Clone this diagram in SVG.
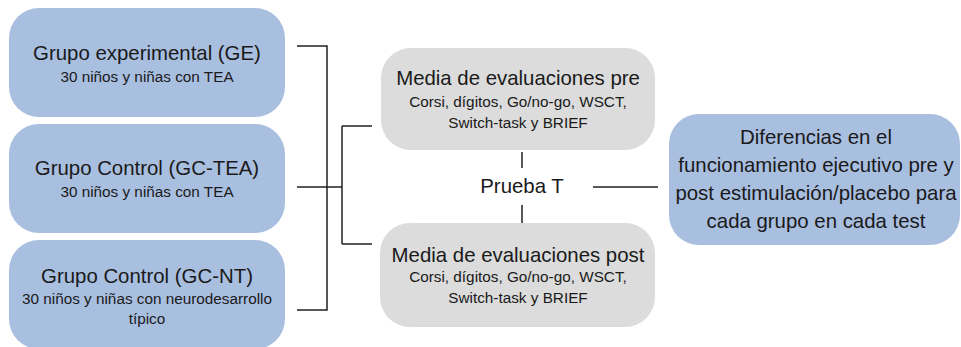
<svg xmlns="http://www.w3.org/2000/svg" width="961" height="347" viewBox="0 0 961 347">
<style>
.blue{fill:#a9bfe0}
.gray{fill:#dcdcdc}
text{font-family:"Liberation Sans",Arial,sans-serif;fill:#1a1a1a;text-anchor:middle}
.t{font-size:20.4px}
.s{font-size:15.3px}
.c{fill:none;stroke:#222;stroke-width:1.5}
</style>
<rect width="961" height="347" fill="#fff"/>
<g id="ge">
<rect class="blue" x="9" y="8" width="276" height="109" rx="30"/>
<text class="t" x="147" y="60">Grupo experimental (GE)</text>
<text class="s" x="147" y="82">30 niños y niñas con TEA</text>
</g>
<g id="gctea">
<rect class="blue" x="9" y="124" width="276" height="109" rx="30"/>
<text class="t" x="147" y="175">Grupo Control (GC-TEA)</text>
<text class="s" x="147" y="197">30 niños y niñas con TEA</text>
</g>
<g id="gcnt">
<rect class="blue" x="9" y="240" width="276" height="109" rx="30"/>
<text class="t" x="147" y="283">Grupo Control (GC-NT)</text>
<text class="s" x="147" y="304">30 niños y niñas con neurodesarrollo</text>
<text class="s" x="147" y="324">típico</text>
</g>
<g id="pre">
<rect class="gray" x="381" y="48" width="274" height="102" rx="30"/>
<text class="t" x="518" y="85">Media de evaluaciones pre</text>
<text class="s" x="518" y="107">Corsi, dígitos, Go/no-go, WSCT,</text>
<text class="s" x="518" y="128">Switch-task y BRIEF</text>
</g>
<g id="post">
<rect class="gray" x="380" y="223" width="275" height="104" rx="30"/>
<text class="t" x="518" y="262">Media de evaluaciones post</text>
<text class="s" x="518" y="282">Corsi, dígitos, Go/no-go, WSCT,</text>
<text class="s" x="518" y="303">Switch-task y BRIEF</text>
</g>
<g id="prueba">
<text class="t" x="522" y="193">Prueba T</text>
</g>
<g id="dif">
<rect class="blue" x="669" y="114" width="291" height="131" rx="30"/>
<text class="t" x="816" y="144">Diferencias en el</text>
<text class="t" x="816" y="172">funcionamiento ejecutivo pre y</text>
<text class="t" x="816" y="200">post estimulación/placebo para</text>
<text class="t" x="816" y="228">cada grupo en cada test</text>
</g>
<g id="connectors">
<path class="c" d="M297 46H327V310H297M297 187H342M342 126V244M342 126H372M342 244H372"/>
<path class="c" d="M522 152V168M522 205V223M593 187H658"/>
</g>
</svg>
